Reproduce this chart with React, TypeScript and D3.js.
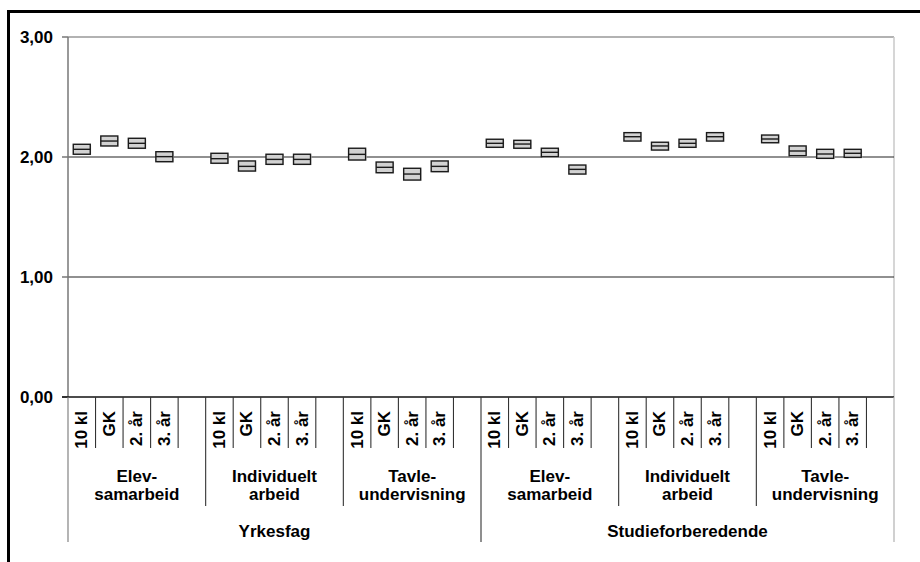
import React from "react";
import * as d3 from "d3";

const topCategories = ["Yrkesfag", "Studieforberedende"];
const groupLabels = [
  ["Elev-", "samarbeid"],
  ["Individuelt", "arbeid"],
  ["Tavle-", "undervisning"],
  ["Elev-", "samarbeid"],
  ["Individuelt", "arbeid"],
  ["Tavle-", "undervisning"],
];
const itemLabels = ["10 kl", "GK", "2. år", "3. år"];
const yTicks = [0, 1, 2, 3];
const yTickLabels = ["0,00", "1,00", "2,00", "3,00"];

// per group, 4 items each: high, mid, low
const highValues = [
  2.106, 2.175, 2.156, 2.044,
  2.031, 1.967, 2.023, 2.023,
  2.073, 1.958, 1.906, 1.967,
  2.148, 2.139, 2.073, 1.933,
  2.203, 2.123, 2.148, 2.203,
  2.183, 2.092, 2.064, 2.064,
];
const midValues = [
  2.064, 2.133, 2.114, 2.003,
  1.986, 1.922, 1.98, 1.98,
  2.022, 1.914, 1.858, 1.922,
  2.114, 2.108, 2.039, 1.897,
  2.169, 2.092, 2.114, 2.169,
  2.15, 2.05, 2.025, 2.031,
];
const lowValues = [
  2.023, 2.092, 2.073, 1.961,
  1.948, 1.883, 1.939, 1.939,
  1.975, 1.869, 1.808, 1.878,
  2.081, 2.073, 2.003, 1.858,
  2.133, 2.058, 2.081, 2.133,
  2.119, 2.011, 1.989, 1.997,
];

const FONT = "'Liberation Sans', Arial, Helvetica, sans-serif";

export default function App() {
  const left = 68, right = 894, top = 37, bottom = 397;
  const nSlots = 30;
  const y = d3.scaleLinear().domain([0, 3]).range([bottom, top]);
  const slots = d3.range(nSlots);
  const x = d3.scaleBand<number>().domain(slots).range([left, right]).padding(0);
  const bw = x.bandwidth();
  const boundary = (k: number) => left + k * bw;

  const points = midValues.map((m, idx) => {
    const g = Math.floor(idx / 4);
    const i = idx % 4;
    const slot = g * 5 + i;
    return { slot, mid: m, hi: highValues[idx], lo: lowValues[idx], label: itemLabels[i] };
  });
  const boxW = 17;

  return (
    <svg width={920} height={562} style={{ position: "absolute", left: 0, top: 0, background: "#fff" }}
      fontFamily={FONT}>
      <rect x={0} y={0} width={920} height={562} fill="#fff" />
      {/* outer frame */}
      <path d="M8.5,562 V11.5 H920" fill="none" stroke="#000" strokeWidth={3} />

      {/* plot frame */}
      <line x1={left} x2={right} y1={top} y2={top} stroke="#999" strokeWidth={1.5} />
      <line x1={right} x2={right} y1={top} y2={bottom} stroke="#c8c8c8" strokeWidth={1.5} />
      {/* gridlines */}
      {yTicks.map((t, k) => (
        <g key={k}>
          {t !== 0 && t !== 3 && (
            <line x1={left} x2={right} y1={y(t)} y2={y(t)} stroke="#222" strokeWidth={1.2} />
          )}
          <line x1={left - 6} x2={left} y1={y(t)} y2={y(t)} stroke="#555" strokeWidth={1.2} />
          <text x={53} y={y(t)} textAnchor="end" dominantBaseline="central" fontSize={17}
            fontWeight="bold" fill="#000">{yTickLabels[k]}</text>
        </g>
      ))}
      {/* y axis */}
      <line x1={left} x2={left} y1={top} y2={bottom} stroke="#777" strokeWidth={1.5} />
      {/* x axis */}
      <line x1={left - 6} x2={right} y1={bottom} y2={bottom} stroke="#111" strokeWidth={1.3} />

      {/* category tick lines */}
      {d3.range(nSlots + 1).map((k) => {
        const len = k % 15 === 0 ? 542 : k % 5 === 0 ? 506 : 448;
        const col = k === nSlots ? "#aaa" : k === 0 ? "#777" : "#333";
        return <line key={k} x1={boundary(k)} x2={boundary(k)} y1={bottom} y2={len}
          stroke={col} strokeWidth={1.1} />;
      })}

      {/* item labels */}
      {points.map((p, k) => {
        const cx = (x(p.slot) as number) + bw / 2;
        return (
          <text key={k} transform={`translate(${cx},411) rotate(-90)`} textAnchor="end"
            dominantBaseline="central" fontSize={17} fontWeight="bold" fill="#000">{p.label}</text>
        );
      })}

      {/* group labels */}
      {groupLabels.map((gl, g) => {
        const cx = (boundary(g * 5) + boundary(g * 5 + 5)) / 2;
        return (
          <text key={g} x={cx} textAnchor="middle" fontSize={17} fontWeight="bold" fill="#000">
            <tspan x={cx} y={482}>{gl[0]}</tspan>
            <tspan x={cx} y={500}>{gl[1]}</tspan>
          </text>
        );
      })}

      {/* top-level labels */}
      {topCategories.map((c, t) => {
        const cx = (boundary(t * 15) + boundary(t * 15 + 15)) / 2;
        return <text key={t} x={cx} y={537} textAnchor="middle" fontSize={17} fontWeight="bold"
          fill="#000">{c}</text>;
      })}

      {/* boxes */}
      {points.map((p, k) => {
        const cx = (x(p.slot) as number) + bw / 2;
        const yt = y(p.hi), yb = y(p.lo), ym = y(p.mid);
        return (
          <g key={k}>
            <rect x={cx - boxW / 2 + 1} y={yt + 1} width={boxW} height={yb - yt} fill="#e4e4e4" />
            <rect x={cx - boxW / 2} y={yt} width={boxW} height={yb - yt} fill="#d2d2d2"
              stroke="#1a1a1a" strokeWidth={1.4} />
            <line x1={cx - boxW / 2} x2={cx + boxW / 2} y1={ym} y2={ym} stroke="#1a1a1a" strokeWidth={1.4} />
          </g>
        );
      })}
    </svg>
  );
}
